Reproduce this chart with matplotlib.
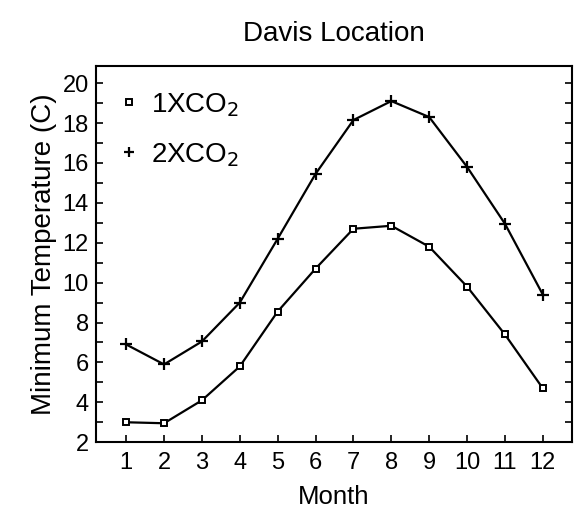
import matplotlib
matplotlib.use("Agg")
import matplotlib.pyplot as plt
from matplotlib.lines import Line2D
from matplotlib.ticker import MultipleLocator

plt.rcParams["font.family"] = ["Liberation Sans", "DejaVu Sans"]

months = [1, 2, 3, 4, 5, 6, 7, 8, 9, 10, 11, 12]
tmin_1x = [3.0, 2.95, 4.1, 5.8, 8.55, 10.7, 12.7, 12.85, 11.8, 9.8, 7.4, 4.7]
tmin_2x = [6.9, 5.9, 7.05, 9.0, 12.2, 15.45, 18.15, 19.1, 18.3, 15.8, 12.95, 9.4]
labels = ["1XCO$_2$", "2XCO$_2$"]

fig = plt.figure(figsize=(5.74, 5.13), dpi=100)
ax = fig.add_axes([0.167, 0.138, 0.8295, 0.733])

ax.plot(months, tmin_1x, color="black", lw=1.6, marker="s", ms=5,
        mfc="white", mec="black", mew=1.4)
ax.plot(months, tmin_2x, color="black", lw=1.6, marker="+", ms=8, mew=1.6)

ax.set_xlim(0.2, 12.77)
ax.set_ylim(2, 20.85)
ax.set_xticks(months)
ax.yaxis.set_major_locator(MultipleLocator(2))
ax.yaxis.set_minor_locator(MultipleLocator(1))
ax.tick_params(which="both", direction="in", labelsize=17, length=5,
               width=1.2, right=True, pad=5)
ax.tick_params(axis="x", pad=7)
for s in ax.spines.values():
    s.set_linewidth(1.5)

ax.set_xlabel("Month", fontsize=18.5, labelpad=8)
ax.set_ylabel("Minimum Temperature (C)", fontsize=20, labelpad=4)
ax.set_title("Davis Location", fontsize=20, pad=18)

handles = [
    Line2D([], [], ls="none", marker="s", ms=5, mfc="white", mec="black", mew=1.4),
    Line2D([], [], ls="none", marker="+", ms=7, mew=1.6, color="black"),
]
ax.legend(handles, labels, loc="upper left", frameon=False, fontsize=20,
          handlelength=0.6, handletextpad=0.5, labelspacing=0.8,
          bbox_to_anchor=(0.0, 1.0))

fig.savefig("out.png", dpi=100)
